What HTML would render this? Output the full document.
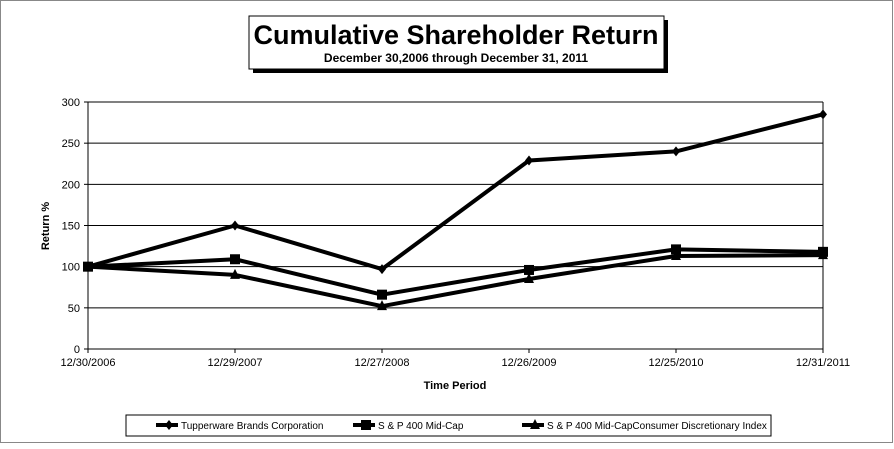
<!DOCTYPE html>
<html><head><style>
body{margin:0;background:#fff;font-family:"Liberation Sans",sans-serif;}
svg text{font-family:"Liberation Sans",sans-serif;}
</style></head><body>
<svg width="894" height="444" xmlns="http://www.w3.org/2000/svg">
<rect x="0.5" y="0.5" width="892" height="442" fill="#fff" stroke="#888"/>
<rect x="253" y="20" width="415" height="53" fill="#000"/>
<rect x="249" y="16" width="415" height="53" fill="#fff" stroke="#000"/>
<text x="456" y="44" text-anchor="middle" font-size="27" font-weight="bold">Cumulative Shareholder Return</text>
<text x="456" y="62" text-anchor="middle" font-size="12" font-weight="bold">December 30,2006 through December 31, 2011</text>
<g id="grid"></g>
<g id="axes"></g>
<g id="series"></g>
<text transform="translate(49,226) rotate(-90)" text-anchor="middle" font-size="11" font-weight="bold">Return %</text>
<text x="455" y="389" text-anchor="middle" font-size="11" font-weight="bold">Time Period</text>
<rect x="126" y="415" width="645" height="21" fill="#fff" stroke="#000"/>
<g id="legend"></g>
</svg>
<script>
const categories=["12/30/2006","12/29/2007","12/27/2008","12/26/2009","12/25/2010","12/31/2011"];
const tupperware=[100,150,97,229,240,285];
const midCap=[100,109,66,96,121,118];
const consumer=[100,90,52,85,113,114];
const yTicks=[0,50,100,150,200,250,300];
const seriesNames=["Tupperware Brands Corporation","S & P 400 Mid-Cap","S & P 400 Mid-CapConsumer Discretionary Index"];
const NS="http://www.w3.org/2000/svg";
const X0=88,X1=823,Y0=349,Y1=102;
const xs=i=>X0+i*(X1-X0)/(categories.length-1);
const ys=v=>Y0-(v/300)*(Y0-Y1);
function mk(tag,attrs,parent){const e=document.createElementNS(NS,tag);for(const k in attrs)e.setAttribute(k,attrs[k]);parent.appendChild(e);return e;}
const grid=document.getElementById('grid'),axes=document.getElementById('axes'),ser=document.getElementById('series'),leg=document.getElementById('legend');
yTicks.forEach(t=>{
 if(t>0){const l=mk('line',{x1:X0,x2:X1,y1:ys(t),y2:ys(t),stroke:'#000','stroke-width':1},grid);
 
 }
 const tx=mk('text',{x:X0-8,y:ys(t)+4,'text-anchor':'end','font-size':11},axes);tx.textContent=t;
 
 
 mk('line',{x1:X0-4,x2:X0,y1:ys(t),y2:ys(t),stroke:'#000'},axes);
});
mk('line',{x1:X1,x2:X1,y1:Y1,y2:Y0,stroke:'#000'},grid);
mk('line',{x1:X0,x2:X0,y1:Y1,y2:Y0,stroke:'#000'},axes);
mk('line',{x1:X0,x2:X1,y1:Y0,y2:Y0,stroke:'#000'},axes);
categories.forEach((c,i)=>{
 mk('line',{x1:xs(i),x2:xs(i),y1:Y0,y2:Y0+4,stroke:'#000'},axes);
 const t=mk('text',{x:xs(i),y:366,'text-anchor':'middle','font-size':11},axes);t.textContent=c;
 
 
});
function marker(kind,x,y,p){
 if(kind==0)return mk('polygon',{points:`${x},${y-5} ${x+4},${y} ${x},${y+5} ${x-4},${y}`,fill:'#000'},p);
 if(kind==1)return mk('rect',{x:x-5,y:y-5,width:10,height:10,fill:'#000'},p);
 return mk('polygon',{points:`${x},${y-6} ${x+5},${y+4} ${x-5},${y+4}`,fill:'#000'},p);
}
[tupperware,midCap,consumer].forEach((d,k)=>{
 const pl=mk('polyline',{points:d.map((v,i)=>xs(i)+','+ys(v)).join(' '),fill:'none',stroke:'#000','stroke-width':4,'stroke-linejoin':'round'},ser);
 
 
 d.forEach((v,i)=>{const m=marker(k,xs(i),ys(v),ser);
  
  });
});
const lx=[156,353,522];
seriesNames.forEach((n,k)=>{
 mk('line',{x1:lx[k],x2:lx[k]+22,y1:425,y2:425,stroke:'#000','stroke-width':4},leg);
 marker(k,lx[k]+13,425,leg);
 const t=mk('text',{x:lx[k]+25,y:429,'font-size':10},leg);t.textContent=n;
 
 
});
</script>
</body></html>
